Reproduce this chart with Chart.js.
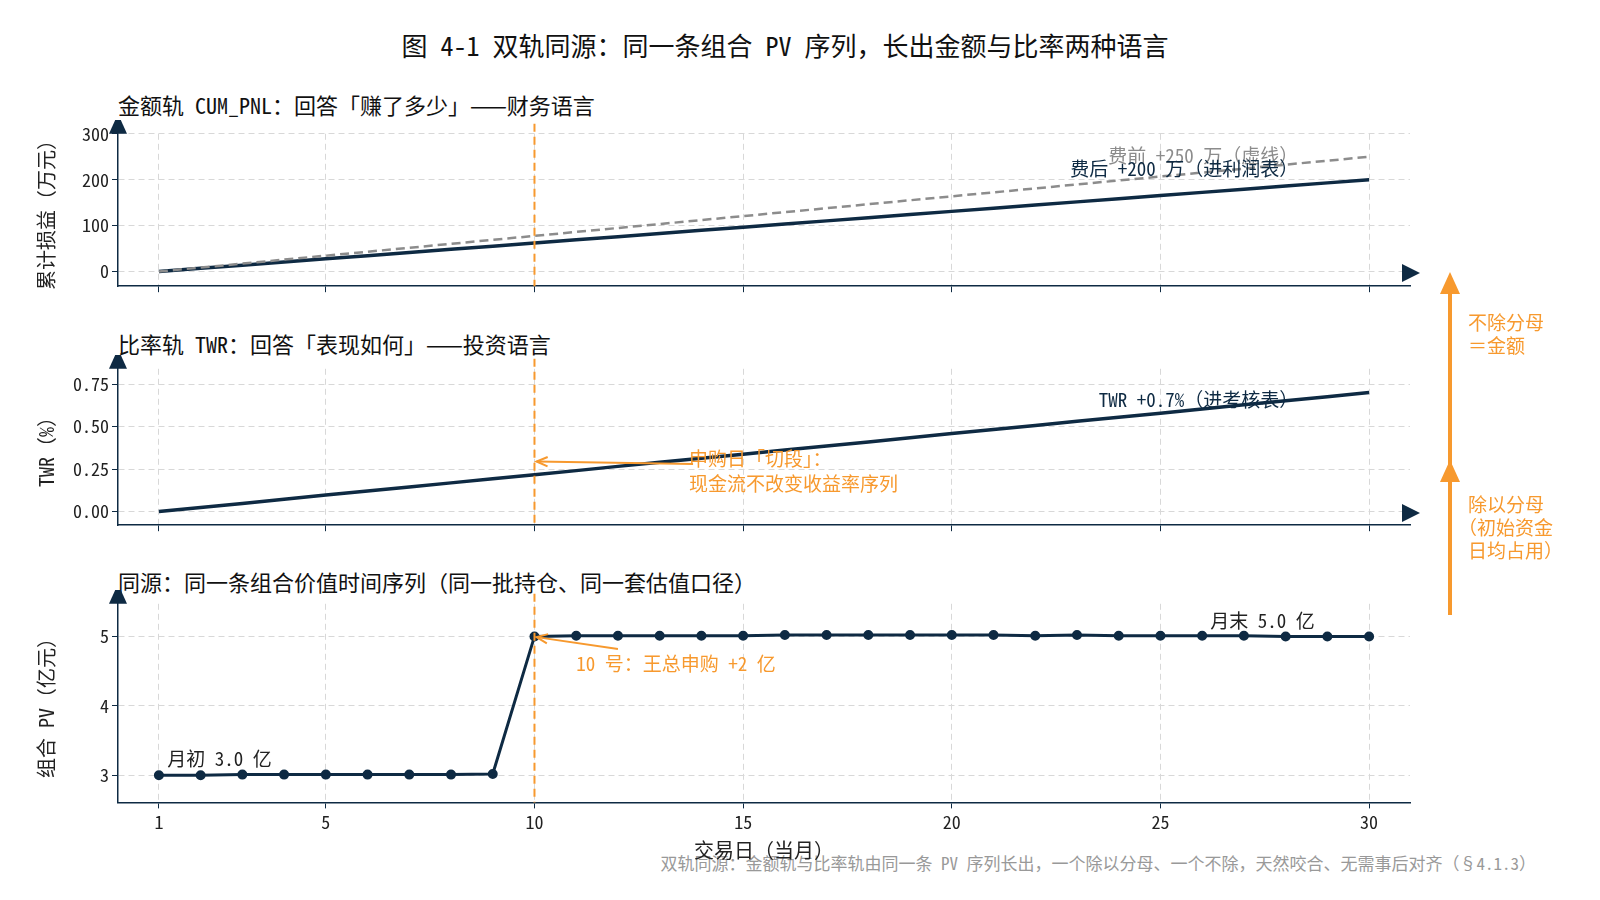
<!DOCTYPE html>
<html><head><meta charset="utf-8">
<script src="https://cdn.jsdelivr.net/npm/chart.js@4.4.1/dist/chart.umd.min.js"></script>
<style>
body{margin:0;width:1600px;height:900px;background:#fff;position:relative;overflow:hidden;font-family:"Noto Sans Mono CJK SC","DejaVu Sans Mono","Noto Sans CJK SC",monospace;}
canvas{position:absolute;left:0;}
.t{position:absolute;white-space:nowrap;color:#111;}
</style></head><body>
<div class="t" style="left:0;width:1570px;text-align:center;top:26px;font-size:26px;">图 4-1 双轨同源：同一条组合 PV 序列，长出金额与比率两种语言</div>
<div class="t" style="left:118px;top:88px;font-size:22px;">金额轨 CUM_PNL：回答「赚了多少」——财务语言</div>
<div class="t" style="left:118px;top:327px;font-size:22px;">比率轨 TWR：回答「表现如何」——投资语言</div>
<div class="t" style="left:118px;top:565px;font-size:22px;">同源：同一条组合价值时间序列（同一批持仓、同一套估值口径）</div>
<div class="t" style="right:64px;top:850px;font-size:17px;color:#999;">双轨同源：金额轨与比率轨由同一条 PV 序列长出，一个除以分母、一个不除，天然咬合、无需事后对齐（§4.1.3）</div>
<div style="position:absolute;left:0;top:120px;width:1420px;height:180px"><canvas id="c1"></canvas></div>
<div style="position:absolute;left:0;top:355px;width:1420px;height:184px"><canvas id="c2"></canvas></div>
<div style="position:absolute;left:0;top:590px;width:1420px;height:276px"><canvas id="c3"></canvas></div>
<svg style="position:absolute;left:0;top:0" width="1600" height="900">
<line x1="1450" y1="615" x2="1450" y2="290" stroke="#f7992e" stroke-width="4"/>
<polygon points="1450,272 1440,294 1460,294" fill="#f7992e"/>
<polygon points="1450,460 1440,482 1460,482" fill="#f7992e"/>
<polygon points="1402,264 1402,282 1420,273" fill="#0e2a43"/>
<polygon points="1402,504 1402,522 1420,513" fill="#0e2a43"/>
<text x="1468" y="330" font-size="19" fill="#f7992e">不除分母</text>
<text x="1468" y="353" font-size="19" fill="#f7992e">＝金额</text>
<text x="1468" y="512" font-size="19" fill="#f7992e">除以分母</text>
<text x="1458" y="535" font-size="19" fill="#f7992e">（初始资金</text>
<text x="1468" y="558" font-size="19" fill="#f7992e">日均占用）</text>
</svg>
<script>
const days=[1,2,3,4,5,6,7,8,9,10,11,12,13,14,15,16,17,18,19,20,21,22,23,24,25,26,27,28,29,30];
const xTicks=[1,5,10,15,20,25,30];
const pnlAfter=[0,6.9,13.8,20.7,27.6,34.5,41.4,48.3,55.2,62.1,69,75.9,82.8,89.7,96.6,103.4,110.3,117.2,124.1,131,137.9,144.8,151.7,158.6,165.5,172.4,179.3,186.2,193.1,200];
const pnlBefore=[0,8.6,17.2,25.9,34.5,43.1,51.7,60.3,69,77.6,86.2,94.8,103.4,112.1,120.7,129.3,137.9,146.6,155.2,163.8,172.4,181,189.7,198.3,206.9,215.5,224.1,232.8,241.4,250];
const twr=[0,0.024,0.048,0.072,0.097,0.121,0.145,0.169,0.193,0.217,0.241,0.266,0.29,0.314,0.338,0.362,0.386,0.41,0.434,0.459,0.483,0.507,0.531,0.555,0.579,0.603,0.628,0.652,0.676,0.70];
const pv=[3.00,3.00,3.01,3.01,3.01,3.01,3.01,3.01,3.02,5.00,5.01,5.01,5.01,5.01,5.01,5.02,5.02,5.02,5.02,5.02,5.02,5.01,5.02,5.01,5.01,5.01,5.01,5.00,5.00,5.00];
const DARK='#0e2a43',OR='#f7992e',F='"Noto Sans Mono CJK SC","DejaVu Sans Mono","Noto Sans CJK SC"';
Chart.defaults.font.family=F;Chart.defaults.color='#222';Chart.defaults.animation=false;
function pts(a){return a.map((v,i)=>({x:days[i],y:v}));}
function annot(list){return {id:'ann',afterDatasetsDraw(c){const ctx=c.ctx,xs=c.scales.x,ys=c.scales.y;
 ctx.save();ctx.strokeStyle=OR;ctx.setLineDash([8,5]);ctx.lineWidth=2;ctx.beginPath();ctx.moveTo(xs.getPixelForValue(10),c.chartArea.top-10);ctx.lineTo(xs.getPixelForValue(10),c.chartArea.bottom);ctx.stroke();ctx.setLineDash([]);
 ctx.fillStyle=DARK;ctx.beginPath();const lx=c.chartArea.left;ctx.moveTo(lx,c.chartArea.top-20);ctx.lineTo(lx-9,c.chartArea.top);ctx.lineTo(lx+9,c.chartArea.top);ctx.fill();
 list.forEach(a=>{if(a.arrow){const [x0,y0,x1,y1]=a.arrow;const X0=xs.getPixelForValue(x0),Y0=ys.getPixelForValue(y0),X1=xs.getPixelForValue(x1),Y1=ys.getPixelForValue(y1);
  ctx.strokeStyle=OR;ctx.lineWidth=2;ctx.beginPath();ctx.moveTo(X0,Y0);ctx.lineTo(X1,Y1);ctx.stroke();const an=Math.atan2(Y1-Y0,X1-X0);
  ctx.beginPath();ctx.moveTo(X1-12*Math.cos(an-0.4),Y1-12*Math.sin(an-0.4));ctx.lineTo(X1,Y1);ctx.lineTo(X1-12*Math.cos(an+0.4),Y1-12*Math.sin(an+0.4));ctx.stroke();}
  if(a.text){ctx.font=(a.size||19)+'px '+F;ctx.fillStyle=a.color;ctx.textAlign=a.align||'left';ctx.textBaseline='middle';a.text.forEach((t,i)=>ctx.fillText(t,xs.getPixelForValue(a.x),ys.getPixelForValue(a.y)+i*25));}});
 ctx.restore();}};}
function mk(id,datasets,ymin,ymax,yt,ystep,ytitle,bottom,ann){
 new Chart(document.getElementById(id),{type:'line',data:{datasets},plugins:[annot(ann)],
 options:{responsive:true,maintainAspectRatio:false,layout:{padding:{top:10,right:10,left:30}},plugins:{legend:{display:false},tooltip:{enabled:false}},
 scales:{x:{type:'linear',min:0.02,max:30.98,afterBuildTicks(s){s.ticks=xTicks.map(v=>({value:v}));},
   border:{color:DARK,width:1.5,dash:[6,4]},grid:{color:'#d8d8d8',tickColor:DARK,tickLength:6},
   ticks:{display:bottom,color:'#222',font:{size:18},maxRotation:0},
   title:{display:bottom,text:'交易日（当月）',font:{size:20},color:'#222',padding:{top:2}},
   afterFit(s){if(!bottom)s.height=12;}},
  y:{min:ymin,max:ymax,afterBuildTicks(s){s.ticks=yt.map(v=>({value:v}));},border:{color:DARK,width:1.5,dash:[6,4]},
   grid:{color:'#d8d8d8',tickLength:6,tickColor:DARK},
   ticks:{color:'#222',font:{size:18},callback:v=>ystep(v)},
   title:{display:true,text:ytitle,font:{size:20},color:'#222'},afterFit(s){s.width=88;}}}}});}
mk('c1',[{data:pts(pnlBefore),borderColor:'#8c8c8c',borderDash:[9,5],borderWidth:2.5,pointRadius:0},
 {data:pts(pnlAfter),borderColor:DARK,borderWidth:3.5,pointRadius:0}],-32,300,[0,100,200,300],v=>v,'累计损益（万元）',false,
 [{x:28.3,y:252,text:['费前 +250 万（虚线）'],color:'#8c8c8c',align:'right'},{x:28.3,y:224,text:['费后 +200 万（进利润表）'],color:DARK,align:'right'}]);
mk('c2',[{data:pts(twr),borderColor:DARK,borderWidth:3.5,pointRadius:0}],-0.08,0.84,[0,0.25,0.5,0.75],v=>v.toFixed(2),'TWR（%）',false,
 [{x:28.3,y:0.66,text:['TWR +0.7%（进考核表）'],color:DARK,align:'right'},{arrow:[13.8,0.28,10.05,0.295]},{x:13.7,y:0.31,text:['申购日「切段」：','现金流不改变收益率序列'],color:OR}]);
mk('c3',[{data:pts(pv),borderColor:DARK,borderWidth:3,pointRadius:3.5,pointBackgroundColor:DARK,pointBorderColor:DARK}],2.61,5.47,[3,4,5],v=>v,'组合 PV（亿元）',true,
 [{x:1.2,y:3.24,text:['月初 3.0 亿'],color:'#222'},{x:28.7,y:5.22,text:['月末 5.0 亿'],color:'#222',align:'right'},{arrow:[12.0,4.82,10.05,4.99]},{x:11.0,y:4.61,text:['10 号：王总申购 +2 亿'],color:OR}]);
</script></body></html>
